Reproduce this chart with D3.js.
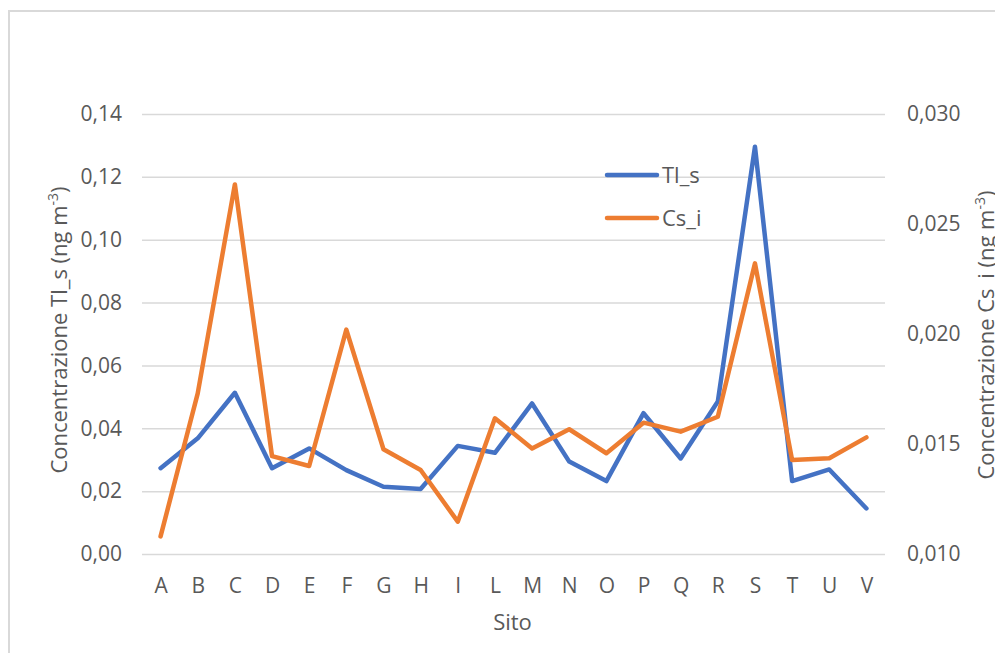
<!DOCTYPE html>
<html>
<head>
<meta charset="utf-8">
<script src="https://cdn.jsdelivr.net/npm/d3@7"></script>
<style>
  html, body { margin: 0; padding: 0; background: #fff; }
  svg { display: block; }
  text { font-family: "Open Sans", sans-serif; fill: #595959; }
</style>
</head>
<body>
<svg id="chart" width="995" height="653"></svg>
<script>
const categories = ["A","B","C","D","E","F","G","H","I","L","M","N","O","P","Q","R","S","T","U","V"];
const tlValues = [0.0273,0.0368,0.0513,0.0273,0.0336,0.0267,0.0214,0.0207,0.0344,0.0322,0.0479,0.0294,0.0232,0.0448,0.0304,0.0485,0.1296,0.0232,0.0269,0.0145];
const csValues = [0.0108,0.0173,0.0268,0.01445,0.0140,0.0202,0.01476,0.01382,0.01147,0.01617,0.0148,0.01567,0.01458,0.01597,0.01556,0.01624,0.02321,0.01427,0.01435,0.0153];
const leftTicks = [0,0.02,0.04,0.06,0.08,0.10,0.12,0.14];
const rightTicks = [0.010,0.015,0.020,0.025,0.030];
const seriesNames = ["Tl_s","Cs_i"];
const colors = ["#4472C4","#ED7D31"];

const loc = d3.formatLocale({decimal: ",", thousands: ".", grouping: [3], currency: ["", "€"]});
const fmt2 = loc.format(".2f"), fmt3 = loc.format(".3f");

const svg = d3.select("#chart");
const L = 142, R = 885, T = 114, B = 554;
const FS = 21;

// outer border
svg.append("rect").attr("x", 9).attr("y", 11).attr("width", 1100).attr("height", 800)
  .attr("fill", "none").attr("stroke", "#d9d9d9").attr("stroke-width", 2);

const x = d3.scalePoint().domain(categories).range([L, R]).padding(0.5);
const yL = d3.scaleLinear().domain([0, 0.14]).range([B, T]);
const yR = d3.scaleLinear().domain([0.010, 0.030]).range([B, T]);

// gridlines + left axis
const gL = svg.append("g").attr("transform", `translate(${L},0)`)
  .call(d3.axisLeft(yL).tickValues(leftTicks).tickFormat(fmt2).tickSize(-(R - L)).tickPadding(20));
gL.select(".domain").remove();
gL.selectAll(".tick line").attr("stroke", "#d9d9d9").attr("stroke-width", 1.5);
gL.selectAll(".tick text").attr("font-size", FS).style("fill", "#595959").attr("font-family", "Open Sans, sans-serif");

// right axis (labels only)
const gR = svg.append("g").attr("transform", `translate(${R},0)`)
  .call(d3.axisRight(yR).tickValues(rightTicks).tickFormat(fmt3).tickSize(0).tickPadding(22));
gR.select(".domain").remove();
gR.selectAll(".tick text").attr("font-size", FS).style("fill", "#595959").attr("font-family", "Open Sans, sans-serif");

// x axis labels
const gX = svg.append("g").attr("transform", `translate(0,${B})`)
  .call(d3.axisBottom(x).tickSize(0).tickPadding(24));
gX.select(".domain").remove();
gX.selectAll(".tick text").attr("font-size", FS).style("fill", "#595959").attr("font-family", "Open Sans, sans-serif");

// lines
const lineL = d3.line().x((d, i) => x(categories[i])).y(d => yL(d));
const lineR = d3.line().x((d, i) => x(categories[i])).y(d => yR(d));
svg.append("path").datum(tlValues).attr("d", lineL).attr("fill", "none")
  .attr("stroke", colors[0]).attr("stroke-width", 4.5).attr("stroke-linejoin", "round").attr("stroke-linecap", "round");
svg.append("path").datum(csValues).attr("d", lineR).attr("fill", "none")
  .attr("stroke", colors[1]).attr("stroke-width", 4.5).attr("stroke-linejoin", "round").attr("stroke-linecap", "round");

// axis titles
svg.append("text").attr("x", (L + R) / 2 - 1).attr("y", 630).attr("text-anchor", "middle")
  .attr("font-size", 22).text("Sito");

function axisTitle(cx, cy, label) {
  const t = svg.append("text").attr("transform", `translate(${cx},${cy}) rotate(-90)`)
    .attr("text-anchor", "middle").attr("font-size", 22);
  t.append("tspan").text(label + " (ng m");
  t.append("tspan").attr("font-size", 14).attr("dy", -9).text("-3");
  t.append("tspan").attr("dy", 9).text(")");
}
axisTitle(67, 330, "Concentrazione Tl_s");
axisTitle(994, 335, "Concentrazione Cs_i");

// legend
const leg = svg.append("g");
seriesNames.forEach((n, i) => {
  const yy = 175 + i * 43;
  leg.append("line").attr("x1", 607).attr("x2", 657).attr("y1", yy).attr("y2", yy)
    .attr("stroke", colors[i]).attr("stroke-width", 4.5).attr("stroke-linecap", "round");
  leg.append("text").attr("x", 662).attr("y", yy + 8).attr("font-size", 22).text(n);
});
</script>
</body>
</html>
